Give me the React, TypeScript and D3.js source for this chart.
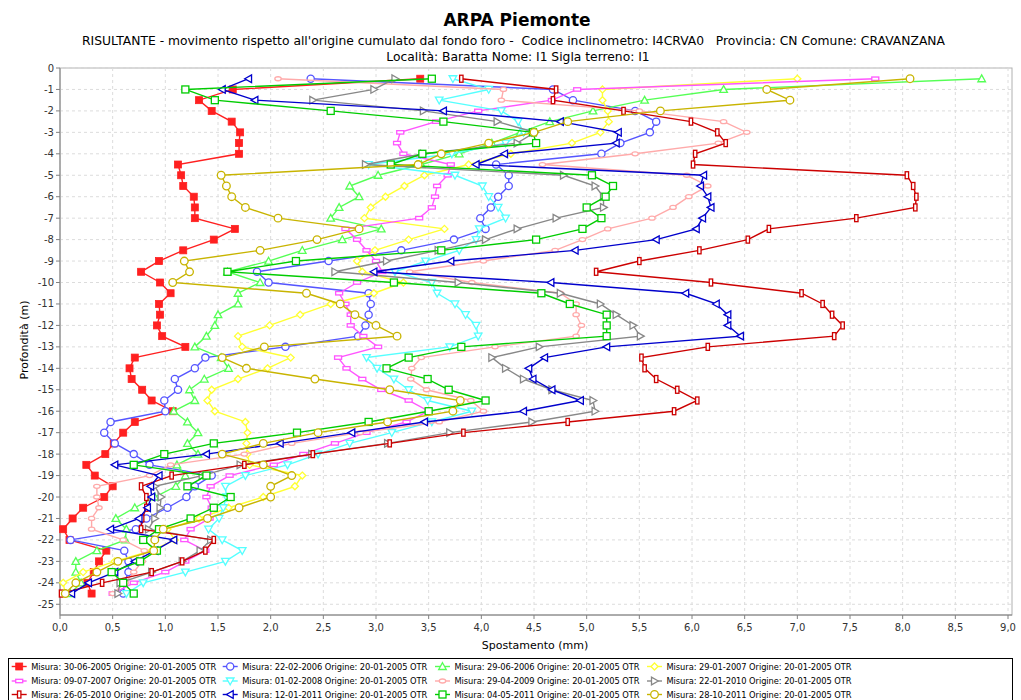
import React from "react";
import * as d3 from "d3";

const depths = [-0.5,-1,-1.5,-2,-2.5,-3,-3.5,-4,-4.5,-5,-5.5,-6,-6.5,-7,-7.5,-8,-8.5,-9,-9.5,-10,-10.5,-11,-11.5,-12,-12.5,-13,-13.5,-14,-14.5,-15,-15.5,-16,-16.5,-17,-17.5,-18,-18.5,-19,-19.5,-20,-20.5,-21,-21.5,-22,-22.5,-23,-23.5,-24,-24.5];

const s20050630 = [3.42,1.64,1.32,1.44,1.63,1.71,1.70,1.70,1.12,1.15,1.17,1.27,1.28,1.28,1.66,1.46,1.17,0.94,0.77,0.95,1.05,0.94,0.95,0.92,0.97,1.19,0.71,0.66,0.68,0.78,0.87,1.07,0.71,0.60,0.51,0.43,0.25,0.33,0.50,0.42,0.22,0.12,0.03,0.09,0.44,0.37,0.32,0.26,0.30];
const s20060222 = [2.38,4.68,4.87,5.46,5.66,5.60,5.32,5.14,4.14,4.26,4.26,4.16,4.09,3.99,4.04,3.74,3.24,2.55,1.87,1.98,2.93,2.95,2.93,2.90,2.83,2.14,1.38,1.28,1.09,1.12,0.99,1.00,0.48,0.42,0.52,0.70,0.85,1.44,1.28,1.20,1.02,0.82,0.72,0.10,0.61,0.65,0.65,0.61,0.60];
const s20060629 = [8.75,6.30,5.55,5.06,4.65,4.37,4.10,3.79,3.43,3.02,2.75,2.84,2.65,2.57,3.05,2.68,2.30,1.98,1.59,1.90,1.69,1.69,1.50,1.47,1.39,1.28,1.53,1.60,1.37,1.23,1.28,1.08,1.21,1.31,1.21,1.31,1.11,1.19,1.10,0.90,0.71,0.53,0.63,0.62,0.35,0.15,0.15,0.20,0.10];
const s20070129 = [7.00,5.15,5.15,5.20,5.21,5.13,4.86,4.28,3.88,3.46,3.27,3.09,2.95,2.89,3.65,3.31,2.99,2.82,2.87,3.26,2.98,2.57,2.28,1.99,1.69,1.73,2.19,1.97,1.69,1.44,1.40,1.47,1.76,1.78,1.77,1.78,1.80,2.30,2.23,1.93,1.60,1.32,1.02,1.09,0.87,0.52,0.22,0.03,0.05];
const s20070709 = [7.74,4.91,4.67,3.97,3.57,3.23,3.20,3.26,3.71,3.68,3.58,3.56,3.53,3.41,2.71,2.82,2.91,3.00,3.06,2.82,2.65,2.71,2.76,2.76,2.88,3.02,2.64,2.72,2.87,3.05,3.31,3.50,3.29,2.91,2.61,2.31,2.03,1.61,1.43,1.39,1.44,1.42,1.24,1.18,1.38,1.19,1.00,0.70,0.50];
const s20080201 = [3.73,4.07,3.60,4.19,4.35,4.40,4.23,3.72,2.93,3.75,4.01,4.07,4.16,4.23,3.98,3.95,3.79,3.47,3.18,3.53,3.58,3.75,3.85,3.95,3.97,3.70,2.91,3.01,3.17,3.31,3.49,3.91,3.53,3.15,2.75,2.45,2.16,1.76,1.57,1.58,1.55,1.51,1.41,1.54,1.73,1.57,1.19,0.79,0.63];
const s20090429 = [2.07,4.21,4.19,5.50,6.30,6.52,6.25,5.46,4.58,5.95,6.15,5.97,5.82,5.62,5.20,4.96,4.70,4.02,3.32,3.91,4.75,4.90,4.90,4.95,4.90,4.13,3.43,3.34,3.33,3.48,3.90,4.02,3.60,2.85,2.20,1.75,1.05,0.85,0.35,0.35,0.37,0.30,0.30,0.60,0.80,0.78,0.70,0.62,0.50];
const s20100122 = [3.18,2.98,2.40,3.45,4.15,4.51,4.34,3.45,2.90,4.78,5.08,5.16,5.16,4.71,4.34,4.04,3.59,3.10,2.61,3.78,4.75,5.13,5.28,5.44,5.51,4.55,4.10,4.23,4.40,4.67,5.06,5.08,4.48,3.70,3.11,2.39,1.71,1.35,0.90,0.96,0.95,0.90,0.84,1.43,1.33,1.16,0.87,0.57,0.55];
const s20100526 = [3.81,4.71,4.68,5.35,5.99,6.24,6.32,6.03,6.01,8.04,8.10,8.13,8.12,7.56,6.73,6.53,6.07,5.50,5.09,6.18,7.04,7.24,7.33,7.43,7.35,6.15,5.52,5.55,5.66,5.86,6.05,5.83,4.82,3.83,3.13,2.40,1.75,1.06,0.77,0.82,0.82,0.78,0.77,1.46,1.38,1.16,0.87,0.40,0.01];
const s20110112 = [1.79,1.54,1.85,3.64,4.75,5.30,5.28,4.22,3.95,6.11,6.08,6.15,6.18,6.10,6.04,5.66,4.89,3.71,2.98,4.66,5.94,6.23,6.34,6.34,6.46,5.19,4.60,4.45,4.49,4.67,4.94,4.40,3.46,2.77,2.09,1.39,0.52,0.94,0.86,0.87,0.83,0.75,0.48,1.08,0.90,0.71,0.52,0.27,0.11];
const s20110504 = [3.53,1.19,1.47,2.57,3.64,4.49,4.52,3.44,3.14,5.05,5.25,5.18,5.00,5.14,4.96,4.52,3.62,2.24,1.59,3.17,4.57,4.84,5.19,5.19,5.19,3.81,3.31,3.10,3.49,3.69,4.04,3.50,2.93,2.25,1.46,0.99,0.70,1.39,1.21,1.62,1.46,1.24,0.94,0.79,0.92,0.76,0.49,0.60,0.70];
const s20111028 = [8.07,6.71,6.93,5.70,4.82,4.50,4.07,3.62,3.40,1.53,1.58,1.63,1.76,2.07,2.84,2.44,1.90,1.18,1.23,1.07,2.34,2.66,2.80,3.00,3.20,1.94,1.54,1.77,2.42,3.13,3.80,3.73,3.11,2.45,1.93,1.54,1.93,2.20,2.00,2.00,1.70,1.40,0.98,0.90,0.89,0.55,0.35,0.15,0.05];

const seriesLabels = [
  "Misura: 30-06-2005 Origine: 20-01-2005 OTR",
  "Misura: 22-02-2006 Origine: 20-01-2005 OTR",
  "Misura: 29-06-2006 Origine: 20-01-2005 OTR",
  "Misura: 29-01-2007 Origine: 20-01-2005 OTR",
  "Misura: 09-07-2007 Origine: 20-01-2005 OTR",
  "Misura: 01-02-2008 Origine: 20-01-2005 OTR",
  "Misura: 29-04-2009 Origine: 20-01-2005 OTR",
  "Misura: 22-01-2010 Origine: 20-01-2005 OTR",
  "Misura: 26-05-2010 Origine: 20-01-2005 OTR",
  "Misura: 12-01-2011 Origine: 20-01-2005 OTR",
  "Misura: 04-05-2011 Origine: 20-01-2005 OTR",
  "Misura: 28-10-2011 Origine: 20-01-2005 OTR",
];
const seriesValues = [s20050630, s20060222, s20060629, s20070129, s20070709, s20080201, s20090429, s20100122, s20100526, s20110112, s20110504, s20111028];
const seriesColors = ["#ff2020", "#5555ff", "#55ff55", "#ffff33", "#ff55ff", "#55ffff", "#ffaaaa", "#888888", "#cc0000", "#0000cc", "#00cc00", "#c8b400"];
const seriesMarkers = ["fsquare", "circle", "tri-up", "diamond", "hrect", "tri-down", "ellipse", "tri-right", "vrect", "tri-left", "square", "circle-big"];

const xTicks = [0,0.5,1,1.5,2,2.5,3,3.5,4,4.5,5,5.5,6,6.5,7,7.5,8,8.5,9];
const yTicks = [0,-1,-2,-3,-4,-5,-6,-7,-8,-9,-10,-11,-12,-13,-14,-15,-16,-17,-18,-19,-20,-21,-22,-23,-24,-25];

const title = "ARPA Piemonte";
const subtitle1 = "RISULTANTE - movimento rispetto all'origine cumulato dal fondo foro -  Codice inclinometro: I4CRVA0   Provincia: CN Comune: CRAVANZANA";
const subtitle2 = "Località: Baratta Nome: I1 Sigla terreno: I1";

const FONT = "'DejaVu Sans', Verdana, sans-serif";

function Marker({ type, x, y, color }: { type: string; x: number; y: number; color: string }) {
  const sw = 1.3;
  switch (type) {
    case "fsquare":
      return <rect x={x - 3.5} y={y - 3.5} width={7} height={7} fill={color} stroke={color} strokeWidth={0.8} />;
    case "circle":
      return <circle cx={x} cy={y} r={3.6} fill="white" stroke={color} strokeWidth={sw} />;
    case "circle-big":
      return <circle cx={x} cy={y} r={3.8} fill="white" stroke={color} strokeWidth={sw} />;
    case "square":
      return <rect x={x - 3.5} y={y - 3.5} width={7} height={7} fill="white" stroke={color} strokeWidth={sw} />;
    case "hrect":
      return <rect x={x - 3.5} y={y - 1.7} width={7} height={3.4} fill="white" stroke={color} strokeWidth={sw} />;
    case "vrect":
      return <rect x={x - 1.7} y={y - 3.5} width={3.4} height={7} fill="white" stroke={color} strokeWidth={sw} />;
    case "ellipse":
      return <ellipse cx={x} cy={y} rx={3.2} ry={2} fill="white" stroke={color} strokeWidth={sw} />;
    case "diamond":
      return <path d={`M${x},${y - 3.5}L${x + 3.5},${y}L${x},${y + 3.5}L${x - 3.5},${y}Z`} fill="white" stroke={color} strokeWidth={sw} />;
    case "tri-up":
      return <path d={`M${x},${y - 3.8}L${x + 3.8},${y + 3}L${x - 3.8},${y + 3}Z`} fill="white" stroke={color} strokeWidth={sw} />;
    case "tri-down":
      return <path d={`M${x},${y + 3.8}L${x + 3.8},${y - 3}L${x - 3.8},${y - 3}Z`} fill="white" stroke={color} strokeWidth={sw} />;
    case "tri-right":
      return <path d={`M${x + 3.8},${y}L${x - 3},${y - 3.8}L${x - 3},${y + 3.8}Z`} fill="white" stroke={color} strokeWidth={sw} />;
    case "tri-left":
      return <path d={`M${x - 3.8},${y}L${x + 3},${y - 3.8}L${x + 3},${y + 3.8}Z`} fill="white" stroke={color} strokeWidth={sw} />;
    default:
      return null;
  }
}

export default function App() {
  const W = 1021, H = 700;
  const left = 60, right = 1012, top = 68, bottom = 615;
  const x = d3.scaleLinear().domain([0, 9]).range([left, 1008]);
  const y = d3.scaleLinear().domain([0, -25.5]).range([top, bottom]);
  const line = d3.line<[number, number]>().x((d) => x(d[0])).y((d) => y(d[1]));

  const legendCols = [11.7, 222.7, 435, 647];
  const legendRows = [666.5, 681, 694.5];

  return (
    <svg width={W} height={H} style={{ position: "absolute", left: 0, top: 0, background: "white" }} fontFamily={FONT}>
      <rect x={0} y={0} width={W} height={H} fill="white" />
      <text x={517} y={26} textAnchor="middle" fontSize={17} fontWeight="bold" fill="#000">{title}</text>
      <text x={513.5} y={45} textAnchor="middle" fontSize={12.3} fill="#000" style={{ whiteSpace: "pre" }} textLength={863} lengthAdjust="spacingAndGlyphs">{subtitle1}</text>
      <text x={518} y={61} textAnchor="middle" fontSize={12.3} fill="#000">{subtitle2}</text>

      {/* plot background & grid */}
      <rect x={left} y={top} width={right - left} height={bottom - top} fill="white" stroke="#b0b0b0" strokeWidth={1} />
      {xTicks.map((t) => (
        <line key={"gx" + t} x1={x(t)} x2={x(t)} y1={top} y2={bottom} stroke="#dcdcdc" strokeWidth={1} strokeDasharray="3,3" />
      ))}
      {yTicks.map((t) => (
        <line key={"gy" + t} x1={left} x2={right} y1={y(t)} y2={y(t)} stroke="#dcdcdc" strokeWidth={1} strokeDasharray="3,3" />
      ))}

      {/* axes */}
      <line x1={left} x2={left} y1={top} y2={bottom} stroke="#808080" strokeWidth={1} />
      <line x1={left} x2={right} y1={bottom} y2={bottom} stroke="#808080" strokeWidth={1} />
      {yTicks.map((t) => (
        <g key={"yt" + t}>
          <line x1={left - 4} x2={left} y1={y(t)} y2={y(t)} stroke="#808080" />
          <text x={left - 6} y={y(t) + 3.5} textAnchor="end" fontSize={10} fill="#333">{String(t)}</text>
        </g>
      ))}
      {xTicks.map((t) => (
        <g key={"xt" + t}>
          <line x1={x(t)} x2={x(t)} y1={bottom} y2={bottom + 4} stroke="#808080" />
          <text x={x(t)} y={bottom + 16} textAnchor="middle" fontSize={10} fill="#333">{t.toFixed(1).replace(".", ",")}</text>
        </g>
      ))}
      <text x={535} y={649} textAnchor="middle" fontSize={11} fill="#000">Spostamento (mm)</text>
      <text transform={`translate(28,340) rotate(-90)`} textAnchor="middle" fontSize={11} fill="#000">Profondità (m)</text>

      {/* series */}
      <g>
        {seriesValues.map((vals, i) => {
          const pts: [number, number][] = vals.map((v, k) => [v, depths[k]]);
          return (
            <g key={"s" + i}>
              <path d={line(pts) || ""} fill="none" stroke={seriesColors[i]} strokeWidth={1.4} />
              {pts.map((p, k) => (
                <Marker key={k} type={seriesMarkers[i]} x={x(p[0])} y={y(p[1])} color={seriesColors[i]} />
              ))}
            </g>
          );
        })}
      </g>

      {/* legend */}
      <rect x={8.5} y={658.5} width={1004} height={60} fill="white" stroke="#000" strokeWidth={1} />
      {seriesLabels.map((lab, i) => {
        const cx = legendCols[i % 4];
        const cy = legendRows[Math.floor(i / 4)];
        return (
          <g key={"lg" + i}>
            <line x1={cx} x2={cx + 15} y1={cy} y2={cy} stroke={seriesColors[i]} strokeWidth={1.4} />
            <Marker type={seriesMarkers[i]} x={cx + 7.5} y={cy} color={seriesColors[i]} />
            <text x={cx + 19.5} y={cy + 3} fontSize={8.3} fill="#000" textLength={185} lengthAdjust="spacing">{lab}</text>
          </g>
        );
      })}
    </svg>
  );
}
